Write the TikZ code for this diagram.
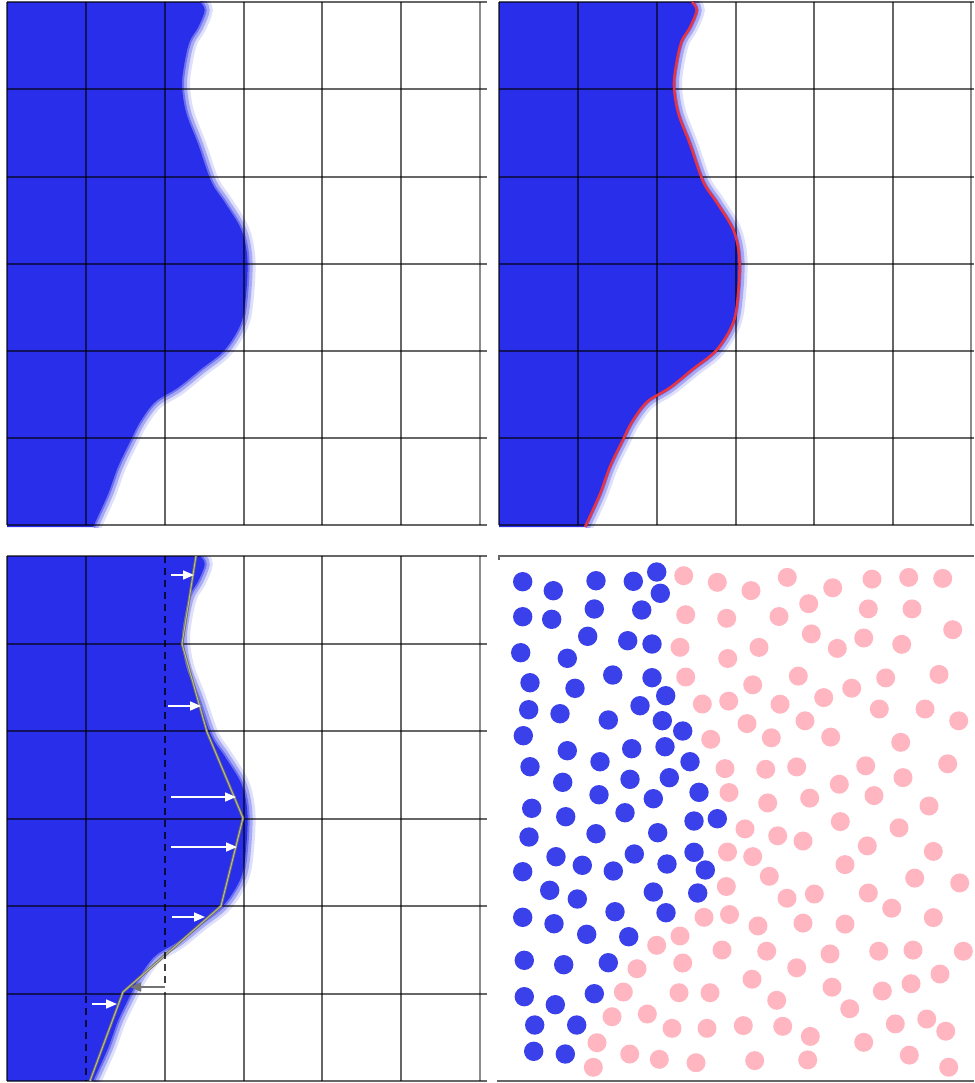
\documentclass[tikz,border=0pt]{standalone}
\usetikzlibrary{arrows.meta}
\definecolor{fillblue}{RGB}{40,46,234}
\definecolor{dotblue}{RGB}{58,64,234}
\definecolor{dotpink}{RGB}{255,182,193}
\definecolor{redline}{RGB}{232,52,64}
\definecolor{polyout}{RGB}{112,112,100}
\definecolor{polyin}{RGB}{190,190,150}
\tikzset{
  gridline/.style={black,opacity=0.6,line width=1.1pt},
  edgeline/.style={black!45,line width=2.2pt},
  dashline/.style={black,opacity=0.75,line width=1.2pt,dash pattern=on 7pt off 5pt},
  whitearrow/.style={white,line width=1.6pt,-{Triangle[length=11pt,width=9pt]}},
  grayarrow/.style={black!55,line width=1.6pt,-{Triangle[length=11pt,width=9pt]}},
  bluedot/.style={fill=dotblue},
  pinkdot/.style={fill=dotpink}
}
\newcommand{\bndfill}{\fill[fillblue] (0,0) -- plot[smooth,tension=0.55] coordinates {(193,0) (197.7,8.3) (191,25.4) (182.7,39.2) (177.7,59.7) (175,83.8) (179.3,111.2) (191,142) (204.3,179.8) (217.7,200.4) (234.3,227.8) (240.3,255.3) (239.3,289.6) (234.3,320.5) (217.7,347.9) (194.3,366.8) (171,385.6) (148,400) (133,420) (124.3,437.1) (111,464.6) (101,492) (86,525)} -- (0,525) -- cycle;}
\newcommand{\bnddraw}[1]{\draw[#1] plot[smooth,tension=0.55] coordinates {(193,0) (197.7,8.3) (191,25.4) (182.7,39.2) (177.7,59.7) (175,83.8) (179.3,111.2) (191,142) (204.3,179.8) (217.7,200.4) (234.3,227.8) (240.3,255.3) (239.3,289.6) (234.3,320.5) (217.7,347.9) (194.3,366.8) (171,385.6) (148,400) (133,420) (124.3,437.1) (111,464.6) (101,492) (86,525)};}
\begin{document}
\begin{tikzpicture}[x=1pt,y=-1pt]
\useasboundingbox (0,0) rectangle (974,1083);
\fill[white] (0,0) rectangle (974,1083);

% ---------- blue regions of the three field panels ----------
\foreach \ox/\oy in {7/2, 499/2, 7/556}{
  \begin{scope}[shift={(\ox,\oy)}]
    \clip (0,0) rectangle (473,525);
    \bndfill
    \bnddraw{fillblue,opacity=0.15,line width=16pt}
    \bnddraw{fillblue,opacity=0.3,line width=10pt}
    \bnddraw{fillblue,opacity=0.45,line width=4pt}
  \end{scope}
}

% ---------- grid: top-left ----------
\foreach \x in {7,86,165,244,322,401} \draw[gridline] (\x,2) -- (\x,525);
\draw[edgeline] (480,2) -- (480,525);
\foreach \y in {2,89,177,264,351,438,525} \draw[gridline] (7,\y) -- (487,\y);

% ---------- grid: top-right ----------
\foreach \x in {499,578,657,736,814,893} \draw[gridline] (\x,2) -- (\x,525);
\draw[edgeline] (971,2) -- (971,525);
\foreach \y in {2,89,177,264,351,438,525} \draw[gridline] (499,\y) -- (974,\y);

% ---------- grid: bottom-left ----------
\foreach \x in {7,244,322,401} \draw[gridline] (\x,556) -- (\x,1081);
\draw[gridline] (86,556) -- (86,994);
\draw[gridline] (165,992) -- (165,1081);
\draw[edgeline] (480,556) -- (480,1081);
\foreach \y in {556,644,731,819,906,994,1081} \draw[gridline] (7,\y) -- (487,\y);

% ---------- frame: bottom-right ----------
\draw[gridline] (499,560) -- (499,556) -- (974,556);
\draw[gridline] (497,1081) -- (974,1081);

% ---------- red interface line (top-right) ----------
\begin{scope}[shift={(499,2)}]
  \bnddraw{redline,line width=2.6pt,line join=round}
\end{scope}

% ---------- bottom-left: polygon, dashed lines, arrows ----------
\coordinate (p0) at (196,556);
\coordinate (p1) at (182,644);
\coordinate (p2) at (207,732);
\coordinate (p3) at (243,818);
\coordinate (p4) at (221,906);
\coordinate (p5) at (123,992);
\coordinate (p6) at (90,1081);
\draw[polyout,line width=2.6pt,line join=round] (p0) -- (p1) -- (p2) -- (p3) -- (p4) -- (p5) -- (p6);
\draw[polyin,line width=0.9pt,line join=round] (p0) -- (p1) -- (p2) -- (p3) -- (p4) -- (p5) -- (p6);

\coordinate (d1a) at (165,556);
\coordinate (d1b) at (165,987);
\coordinate (d2a) at (86,996);
\coordinate (d2b) at (86,1081);
\draw[dashline] (d1a) -- (d1b);
\draw[dashline] (d2a) -- (d2b);
\coordinate (g1) at (130,987);
\draw[grayarrow] (d1b) -- (g1);

\coordinate (w1s) at (171,575);  \coordinate (w1e) at (194,575);
\coordinate (w2s) at (168,706);  \coordinate (w2e) at (201,706);
\coordinate (w3s) at (171,797);  \coordinate (w3e) at (236,797);
\coordinate (w4s) at (171,847);  \coordinate (w4e) at (237,847);
\coordinate (w5s) at (172,917);  \coordinate (w5e) at (205,917);
\coordinate (w6s) at (92,1004);  \coordinate (w6e) at (117,1004);
\foreach \i in {1,...,6} \draw[whitearrow] (w\i s) -- (w\i e);

% ---------- bottom-right: particles ----------
\foreach \px/\py in {522.7/581.7,553.3/590.7,596/580.7,633.3/581.3,656.7/572,660.3/593.3,
522.7/616.7,551.7/619.3,594.3/609,641.7/610,587.7/636.3,627.7/640.7,652/644,
520.7/652.7,567.3/658.3,530/682.7,575/688.3,612.7/675,652/677.7,665.7/695.7,
528.7/709.7,560/713.7,640/705.7,608.3/720,662.3/720.7,682.7/731,
523.3/735.7,567.3/750.7,631.7/748.7,665/746.7,530/766.7,600/761.7,690/761.7,
562.7/782.3,630/779.3,669.3/777.7,599/794.7,653.3/798.7,699/792.3,
531.7/808.3,565.7/816.7,625/812.7,694/821,717.3/818.7,
529/837,596/833.7,657.7/832.7,
556/856.7,582.3/865.3,613.3/871,634.3/854,667/864,694/852.3,705.3/870,
522.7/871.7,549.7/890.3,577.3/899,653.3/892,697.7/893,
522.7/917.3,554/923.7,586.7/934.3,615/911.7,628.7/936.7,666/912.7,
524.3/960.3,563.7/964.7,608.3/962.7,524.3/996.7,555.3/1004.7,594.3/993.7,
534.7/1025,576.7/1025,533.7/1051.3,565.3/1054}
  \fill[bluedot] (\px,\py) circle (9.7);

\foreach \px/\py in {683.7/575.7,717.3/582.3,751/590.6,787.3/577.4,832.7/587.8,872/579.1,908.7/577.4,942.7/578.4,
685.7/614.7,726.7/618.3,779/616.5,808.7/603.7,868.3/608.9,912/608.9,952.7/629.7,
680/647.3,727.7/658.5,759/647.4,811.3/633.9,837.3/648.4,863.7/638,901.7/644.3,
685.7/677,752.7/684.8,798.3/676.1,851.7/688.2,885.7/677.9,939/674.4,
702.3/704,728.7/701.1,780/704.2,823.7/697.6,879.3/709,925/709,958.7/720.8,
710.7/739.3,747/723.6,771.3/737.8,805/720.8,830.7/737.1,900.7/742.3,
725/768.6,765.7/769.3,796.7/766.9,865.7/765.8,903/777.6,947.7/763.8,
729/792.5,767.7/802.9,809.7/798.1,839.3/784.2,874/795.6,929/806,
745/828.9,777.7/835.8,803/841,840.3/821.6,899/827.8,
727.5/852,752.7/856.6,845/864.6,867.3/845.9,933.3/851.4,
769.3/876.3,726.3/886.5,787/898.2,814.3/894,868.3/893,891.7/908.2,914.7/878.1,959.7/882.9,
704/917.3,729.5/914.5,758/925.9,803/923.1,845/924.1,933.3/917.6,
680/936,656.7/945.3,722/950,766.7/951.2,830/953.9,878.7/951.2,913/950.1,963.3/951.2,
637/968.7,682.7/963,752/979.2,796.7/967.8,832/987.2,882.3/991,911/983.7,940/974,
623.3/992,679/992.7,710/992.7,776.7/1000.3,849.7/1008.7,
612/1016.7,647.3/1014,672/1028.3,707/1028.3,743.3/1025.6,782.7/1026.3,810.3/1036.4,895.3/1023.9,926.7/1019,945.7/1031.2,
597/1042.7,863.7/1042.3,
629.7/1054,659.3/1059.3,696/1062.7,593.3/1067.3,754.7/1060.6,807.7/1059.9,909.3/1055.1,948.7/1067.2}
  \fill[pinkdot] (\px,\py) circle (9.5);
\end{tikzpicture}
\end{document}
